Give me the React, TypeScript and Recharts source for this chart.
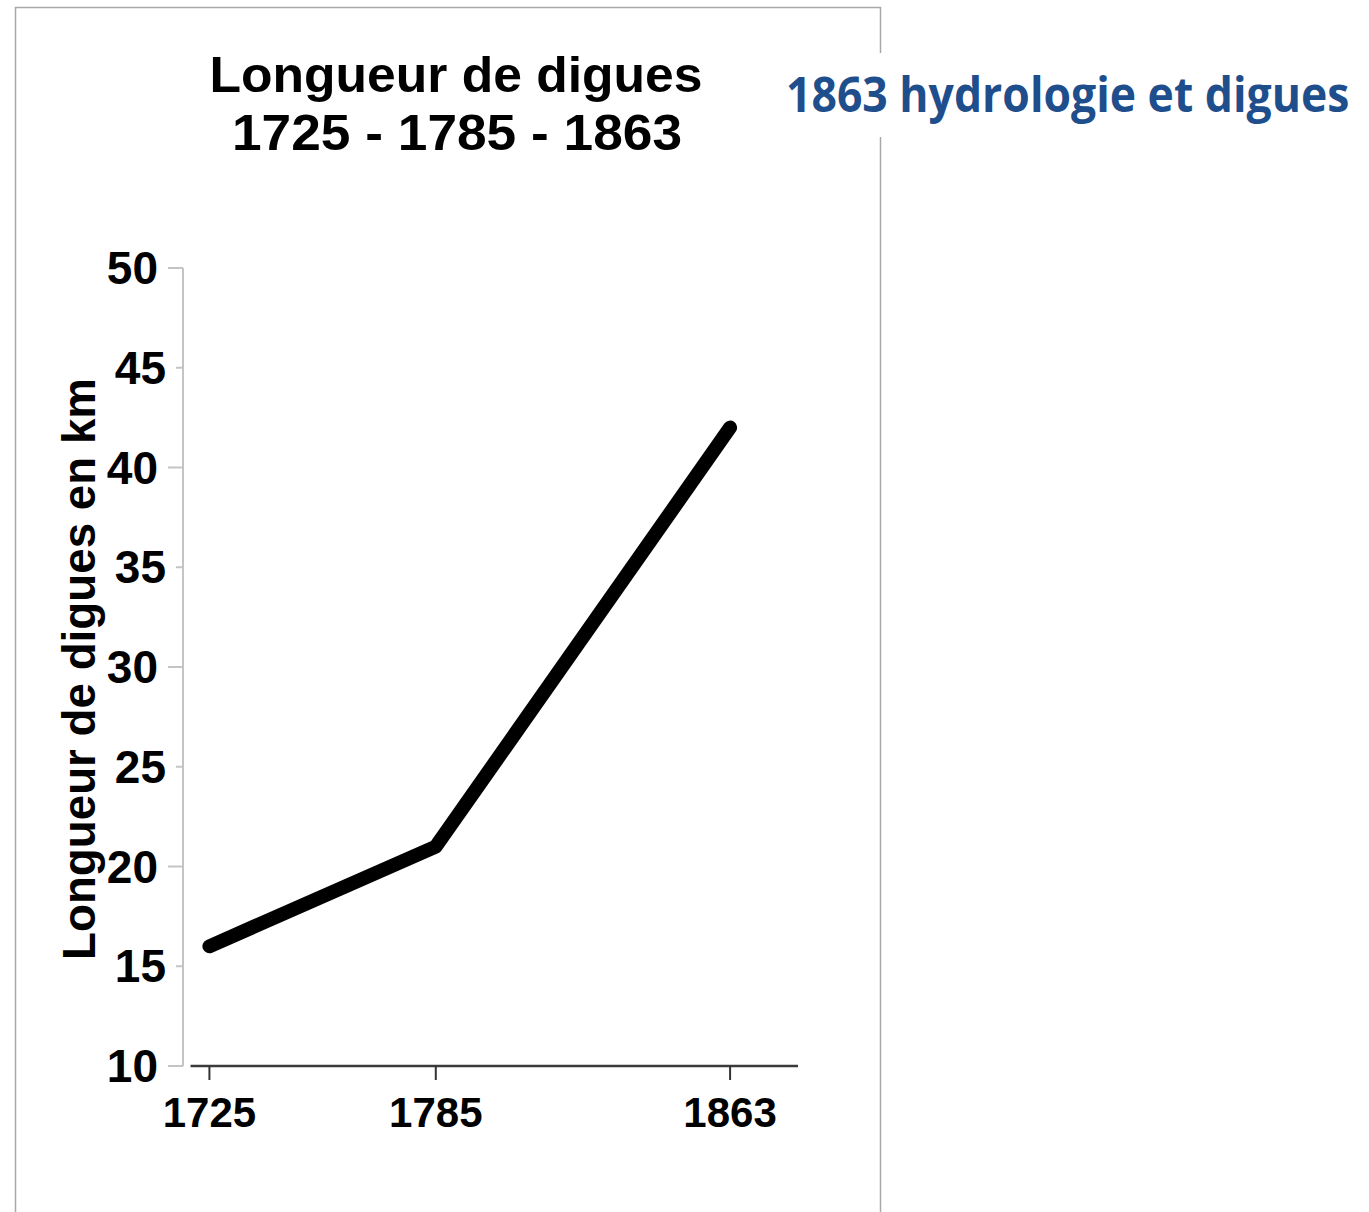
import { LineChart, Line, XAxis, YAxis, ReferenceLine } from "recharts";

// Longueur de digues (km) par année
const years = [1725, 1785, 1863];
const longueurKm = [16, 21, 42];
const yTicks = [10, 15, 20, 25, 30, 35, 40, 45, 50];
const xDomain = [1718, 1881];
const xAxisLineSpan = [1720, 1881];

const titleLines = ["Longueur de digues", "1725 - 1785 - 1863"];
const sideTitle = "1863 hydrologie et digues";
const yLabel = "Longueur de digues en km";

const data = years.map((year, i) => ({ year, km: longueurKm[i] }));

const FONT = "'Liberation Sans', Arial, Helvetica, sans-serif";

const YTick = ({ x, y, payload }: any) => {
  const long = payload.value % 10 === 0;
  const len = long ? 15 : 7;
  return (
    <g>
      <line x1={x - len} y1={y} x2={x} y2={y} stroke="#c4c4c4" strokeWidth={2} />
      <text
        x={x - len - 10}
        y={y}
        textAnchor="end"
        dominantBaseline="central"
        fontFamily={FONT}
        fontWeight="bold"
        fontSize={46}
        fill="#000"
      >
        {payload.value}
      </text>
    </g>
  );
};

const XTick = ({ x, y, payload }: any) => (
  <g>
    <line x1={x} y1={y} x2={x} y2={y + 14} stroke="#333" strokeWidth={2} />
    <text
      x={x}
      y={y + 46}
      textAnchor="middle"
      dominantBaseline="central"
      fontFamily={FONT}
      fontWeight="bold"
      fontSize={42}
      fill="#000"
    >
      {payload.value}
    </text>
  </g>
);

export default function App() {
  return (
    <div
      style={{
        position: "absolute",
        left: 0,
        top: 0,
        width: 1369,
        height: 1212,
        background: "#fff",
        overflow: "hidden",
      }}
    >
      <svg width={1369} height={1212} style={{ position: "absolute", left: 0, top: 0 }}>
        <rect x={15.5} y={7.5} width={865} height={1230} fill="none" stroke="#a8a8a8" strokeWidth={1.5} />
        <rect x={872} y={53} width={497} height={84} fill="#fff" />
        <text
          x={456}
          y={92}
          textAnchor="middle"
          fontFamily={FONT}
          fontWeight="bold"
          fontSize={50}
          textLength={493}
          lengthAdjust="spacingAndGlyphs"
        >
          {titleLines[0]}
        </text>
        <text
          x={457}
          y={150}
          textAnchor="middle"
          fontFamily={FONT}
          fontWeight="bold"
          fontSize={50}
          textLength={450}
          lengthAdjust="spacingAndGlyphs"
        >
          {titleLines[1]}
        </text>
        <text
          transform="translate(786, 112) scale(0.9, 1)"
          x={0}
          y={0}
          fontFamily="'Open Sans', 'Noto Sans', sans-serif"
          fontWeight="bold"
          fontSize={49}
          fill="#1f4e8c"
          textLength={626}
          lengthAdjust="spacingAndGlyphs"
        >
          {sideTitle}
        </text>
        <text
          transform="translate(95, 669) rotate(-90)"
          x={0}
          y={0}
          textAnchor="middle"
          fontFamily={FONT}
          fontWeight="bold"
          fontSize={46}
          textLength={582}
          lengthAdjust="spacingAndGlyphs"
        >
          {yLabel}
        </text>
      </svg>
      <div style={{ position: "absolute", left: 0, top: 0 }}>
        <LineChart
          width={900}
          height={1212}
          data={data}
          margin={{ top: 268, right: 102, bottom: 66, left: 83 }}
        >
          <XAxis
            type="number"
            dataKey="year"
            domain={xDomain}
            ticks={years}
            allowDataOverflow
            axisLine={false}
            tickLine={false}
            tickSize={0}
            tickMargin={0}
            height={80}
            tick={<XTick />}
            interval={0}
          />
          <YAxis
            type="number"
            domain={[10, 50]}
            ticks={yTicks}
            width={100}
            axisLine={{ stroke: "#c4c4c4", strokeWidth: 2 }}
            tickLine={false}
            tickSize={0}
            tickMargin={0}
            tick={<YTick />}
            interval={0}
          />
          <ReferenceLine
            segment={[
              { x: xAxisLineSpan[0], y: 10 },
              { x: xAxisLineSpan[1], y: 10 },
            ]}
            stroke="#3a3a3a"
            strokeWidth={2.5}
            ifOverflow="visible"
          />
          <Line
            type="linear"
            dataKey="km"
            stroke="#000"
            strokeWidth={14}
            strokeLinecap="round"
            strokeLinejoin="round"
            dot={false}
            activeDot={false}
            isAnimationActive={false}
          />
        </LineChart>
      </div>
    </div>
  );
}
